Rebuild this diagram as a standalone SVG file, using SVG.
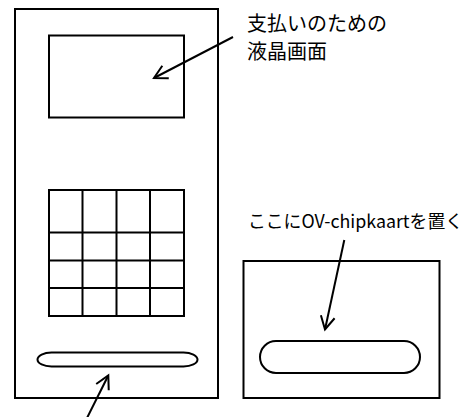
<svg xmlns="http://www.w3.org/2000/svg" width="465" height="417" viewBox="0 0 465 417">
<style>
.s{fill:none;stroke:#000;stroke-width:2}
.t{font-family:"Noto Sans CJK JP","Noto Sans",sans-serif;fill:#000}
</style>
<defs>
<marker id="ah" markerUnits="userSpaceOnUse" markerWidth="30" markerHeight="30" viewBox="-15 -15 30 30" refX="0" refY="0" orient="auto" overflow="visible">
<path d="M-13,-7 L0,0 L-13,7" fill="none" stroke="#000" stroke-width="2"/>
</marker>
</defs>
<rect width="465" height="417" fill="#fff"/>
<g id="terminal">
<rect class="s" x="15" y="9" width="203" height="389"/>
</g>
<g id="screen">
<rect class="s" x="49" y="35.5" width="135" height="82"/>
</g>
<g id="keypad">
<rect class="s" x="49" y="190" width="135" height="126"/>
<path class="s" d="M82.5,190V316M116.5,190V316M150,190V316M49,232.5H184M49,260.5H184M49,288H184"/>
</g>
<g id="slot">
<rect class="s" x="37.5" y="352.5" width="160" height="14" rx="14" ry="7"/>
</g>
<g id="reader">
<rect class="s" x="243.5" y="261" width="196" height="137"/>
</g>
<g id="cardslot">
<rect class="s" x="260" y="341" width="160" height="32" rx="16" ry="16"/>
</g>
<g id="labels">
<text class="t" x="247" y="31" font-size="20" textLength="140" lengthAdjust="spacingAndGlyphs">支払いのための</text>
<text class="t" x="247" y="59" font-size="20" textLength="80" lengthAdjust="spacingAndGlyphs">液晶画面</text>
<text class="t" x="248" y="228" font-size="18" textLength="215" lengthAdjust="spacingAndGlyphs">ここにOV-chipkaartを置く</text>
</g>
<g id="connectors">
<line class="s" x1="233" y1="37" x2="154" y2="78" marker-end="url(#ah)"/>
<line class="s" x1="87" y1="418" x2="108.3" y2="375.5" marker-end="url(#ah)"/>
<line class="s" x1="344.3" y1="240" x2="325" y2="329.5" marker-end="url(#ah)"/>
</g>
</svg>
